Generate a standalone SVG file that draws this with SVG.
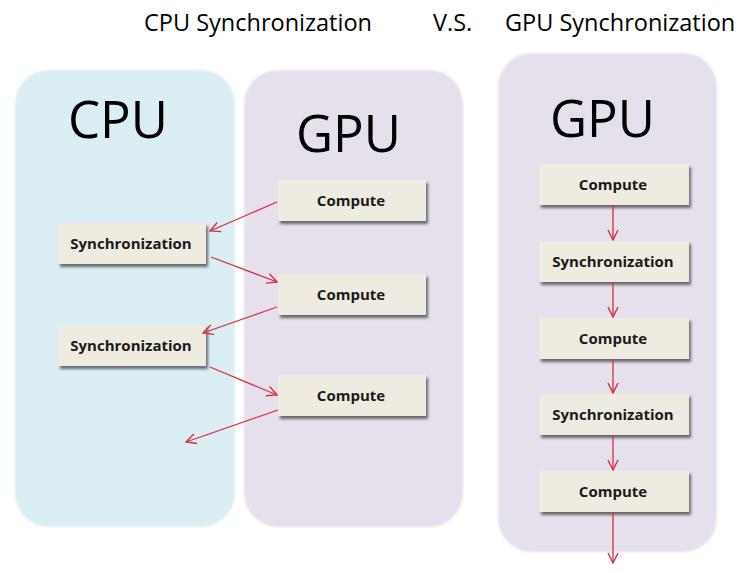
<svg xmlns="http://www.w3.org/2000/svg" width="741" height="573" viewBox="0 0 741 573">
  <defs>
    <filter id="shadow" x="-10%" y="-20%" width="125%" height="160%">
      <feGaussianBlur in="SourceAlpha" stdDeviation="1.5"/>
      <feOffset dx="2" dy="3" result="b"/>
      <feComponentTransfer><feFuncA type="linear" slope="0.55"/></feComponentTransfer>
      <feMerge><feMergeNode/><feMergeNode in="SourceGraphic"/></feMerge>
    </filter>
    <filter id="soft" x="-5%" y="-5%" width="110%" height="110%">
      <feGaussianBlur stdDeviation="0.8"/>
    </filter>
    <marker id="arrow" viewBox="0 0 12 12" refX="11" refY="6" markerWidth="12" markerHeight="12" markerUnits="userSpaceOnUse" orient="auto">
      <path d="M1,1 L11,6 L1,11" fill="none" stroke="#d9303c" stroke-width="1.4"/>
    </marker>
  </defs>
  <style>
    .title { font-family: "Open Sans", "Liberation Sans", sans-serif; font-size: 23.5px; fill: #000; }
    .big { font-family: "Open Sans", "Liberation Sans", sans-serif; font-size: 51px; fill: #000; }
    .box rect { fill: #eeece1; filter: url(#shadow); }
    .box text { font-family: "Open Sans", "Liberation Sans", sans-serif; font-size: 15px; font-weight: bold; fill: #1a1a1a; text-anchor: middle; }
    .cpu { fill: #daeef3; }
    .gpu { fill: #e5e0ec; }
    .conn line { stroke: #d9303c; stroke-width: 1.3; marker-end: url(#arrow); }
  </style>

  <rect width="741" height="573" fill="#ffffff"/>

  <!-- headings -->
  <text class="title" x="144" y="31">CPU Synchronization</text>
  <text class="title" x="433" y="31">V.S.</text>
  <text class="title" x="505" y="31">GPU Synchronization</text>

  <!-- lanes -->
  <g id="lane-cpu">
    <rect class="cpu" x="15" y="70" width="220" height="457" rx="34" filter="url(#soft)"/>
    <text class="big" x="68" y="138">CPU</text>
  </g>
  <g id="lane-gpu">
    <rect class="gpu" x="244" y="70" width="219" height="457" rx="34" filter="url(#soft)"/>
    <text class="big" x="296" y="152">GPU</text>
  </g>
  <g id="lane-gpu-only">
    <rect class="gpu" x="498" y="53" width="219" height="499" rx="34" filter="url(#soft)"/>
    <text class="big" x="550" y="137">GPU</text>
  </g>

  <!-- left comparison: CPU / GPU hand-off -->
  <g id="compute-1" class="box"><rect x="278" y="180" width="148" height="41"/><text x="351" y="206">Compute</text></g>
  <g id="sync-1" class="box"><rect x="58" y="223" width="148" height="41"/><text x="131" y="249">Synchronization</text></g>
  <g id="compute-2" class="box"><rect x="278" y="274" width="148" height="41"/><text x="351" y="300">Compute</text></g>
  <g id="sync-2" class="box"><rect x="58" y="325" width="148" height="41"/><text x="131" y="351">Synchronization</text></g>
  <g id="compute-3" class="box"><rect x="278" y="375" width="148" height="41"/><text x="351" y="401">Compute</text></g>

  <!-- right comparison: GPU only -->
  <g id="g-compute-1" class="box"><rect x="539" y="164" width="150" height="41"/><text x="613" y="190">Compute</text></g>
  <g id="g-sync-1" class="box"><rect x="539" y="241" width="150" height="41"/><text x="613" y="267">Synchronization</text></g>
  <g id="g-compute-2" class="box"><rect x="539" y="318" width="150" height="41"/><text x="613" y="344">Compute</text></g>
  <g id="g-sync-2" class="box"><rect x="539" y="394" width="150" height="41"/><text x="613" y="420">Synchronization</text></g>
  <g id="g-compute-3" class="box"><rect x="539" y="471" width="150" height="41"/><text x="613" y="497">Compute</text></g>

  <g id="connectors" class="conn">
    <line x1="277" y1="202" x2="210" y2="231"/>
    <line x1="211" y1="257" x2="277" y2="282"/>
    <line x1="277" y1="307" x2="203" y2="333"/>
    <line x1="210" y1="367" x2="277" y2="395"/>
    <line x1="278" y1="410" x2="186" y2="442"/>

    <line x1="613" y1="205" x2="613" y2="240"/>
    <line x1="613" y1="282" x2="613" y2="317"/>
    <line x1="613" y1="359" x2="613" y2="393"/>
    <line x1="613" y1="435" x2="613" y2="470"/>
    <line x1="613" y1="512" x2="613" y2="563"/>
  </g>
</svg>
